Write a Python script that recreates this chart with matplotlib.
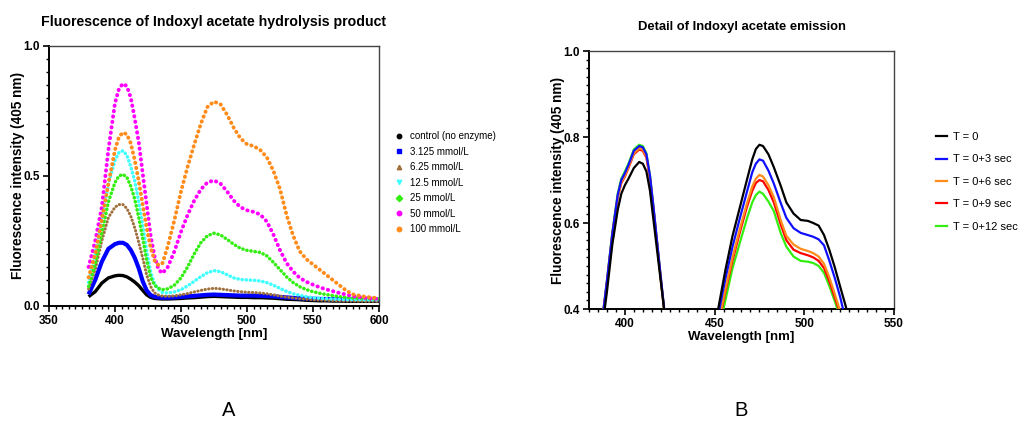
import numpy as np
import matplotlib
matplotlib.use("Agg")
import matplotlib.pyplot as plt
from matplotlib.lines import Line2D
from matplotlib.ticker import MultipleLocator

plt.rcParams['font.family'] = ['Liberation Sans', 'DejaVu Sans']

# ---- Panel A data: emission spectra per substrate concentration ----
wl_a = [380, 385, 390, 395, 400, 403, 406, 409, 412, 415, 418, 421, 424, 427, 430, 433, 436,
        440, 445, 450, 455, 460, 465, 470, 475, 480, 485, 490, 495, 500, 505, 510, 515, 520,
        525, 530, 535, 540, 545, 550, 555, 560, 565, 570, 575, 580, 590, 600]

control = [0.036, 0.055, 0.088, 0.108, 0.116, 0.118, 0.117, 0.112, 0.103, 0.092, 0.078, 0.06,
           0.043, 0.033, 0.029, 0.028, 0.027, 0.027, 0.028, 0.029, 0.031, 0.032, 0.034, 0.036,
           0.037, 0.036, 0.035, 0.034, 0.033, 0.033, 0.032, 0.032, 0.031, 0.03, 0.028, 0.026,
           0.025, 0.024, 0.022, 0.021, 0.02, 0.02, 0.019, 0.019, 0.018, 0.018, 0.018, 0.018]
c3125 = [0.045, 0.1, 0.17, 0.22, 0.238, 0.243, 0.243, 0.235, 0.215, 0.185, 0.145, 0.095,
         0.06, 0.042, 0.035, 0.033, 0.032, 0.032, 0.033, 0.035, 0.037, 0.039, 0.041, 0.043,
         0.044, 0.043, 0.042, 0.041, 0.04, 0.04, 0.04, 0.039, 0.038, 0.037, 0.035, 0.033,
         0.031, 0.03, 0.029, 0.028, 0.027, 0.027, 0.026, 0.026, 0.025, 0.025, 0.025, 0.024]
c625 = [0.065, 0.14, 0.25, 0.34, 0.38, 0.39, 0.39, 0.375, 0.345, 0.3, 0.245, 0.185,
        0.12, 0.075, 0.05, 0.042, 0.038, 0.037, 0.039, 0.043, 0.048, 0.054, 0.06, 0.065,
        0.068, 0.066, 0.062, 0.058, 0.055, 0.053, 0.052, 0.05, 0.047, 0.043, 0.038, 0.034,
        0.031, 0.028, 0.026, 0.024, 0.023, 0.022, 0.021, 0.02, 0.019, 0.019, 0.018, 0.018]
c125 = [0.09, 0.2, 0.33, 0.47, 0.56, 0.59, 0.597, 0.58, 0.535, 0.48, 0.4, 0.31,
        0.21, 0.13, 0.085, 0.063, 0.052, 0.05, 0.054, 0.063, 0.077, 0.095, 0.113, 0.128,
        0.136, 0.132, 0.12, 0.108, 0.102, 0.1, 0.099, 0.096, 0.09, 0.08, 0.068, 0.056,
        0.047, 0.041, 0.036, 0.032, 0.03, 0.028, 0.027, 0.026, 0.025, 0.025, 0.024, 0.024]
c25 = [0.075, 0.16, 0.28, 0.4, 0.475, 0.5, 0.506, 0.495, 0.46, 0.41, 0.34, 0.26,
       0.175, 0.11, 0.08, 0.068, 0.063, 0.066, 0.08, 0.108, 0.15, 0.2, 0.243, 0.27,
       0.28, 0.273, 0.256, 0.237, 0.222, 0.214, 0.21, 0.206, 0.193, 0.168, 0.14, 0.112,
       0.09, 0.074, 0.063, 0.055, 0.049, 0.044, 0.04, 0.036, 0.033, 0.031, 0.029, 0.027]
c50 = [0.15, 0.25, 0.38, 0.6, 0.78, 0.835, 0.855, 0.845, 0.8, 0.72, 0.63, 0.51,
       0.39, 0.27, 0.19, 0.14, 0.126, 0.15, 0.21, 0.285, 0.35, 0.405, 0.448, 0.475,
       0.483, 0.47, 0.44, 0.405, 0.38, 0.368, 0.362, 0.352, 0.325, 0.275, 0.215, 0.165,
       0.132, 0.108, 0.093, 0.082, 0.072, 0.064, 0.057, 0.05, 0.044, 0.038, 0.031, 0.027]
c100 = [0.11, 0.2, 0.33, 0.47, 0.6, 0.65, 0.667, 0.66, 0.625, 0.56, 0.48, 0.39,
        0.3, 0.225, 0.175, 0.157, 0.165, 0.23, 0.33, 0.44, 0.535, 0.62, 0.7, 0.765,
        0.786, 0.775, 0.735, 0.685, 0.645, 0.622, 0.615, 0.6, 0.572, 0.52, 0.45, 0.35,
        0.27, 0.21, 0.18, 0.16, 0.14, 0.12, 0.1, 0.08, 0.06, 0.045, 0.035, 0.03]

labels_a = ["control (no enzyme)", "3.125 mmol/L", "6.25 mmol/L", "12.5 mmol/L",
            "25 mmol/L", "50 mmol/L", "100 mmol/L"]

# ---- Panel B data: emission detail over time ----
wl_b = [384, 388, 390, 393, 396, 398, 400, 402, 405, 408, 410, 412, 414, 416, 418, 420, 422, 426,
        448, 452, 456, 460, 464, 468, 471, 473, 475, 477, 480, 483, 487, 490, 494, 498, 502,
        505, 508, 511, 514, 517, 520, 523, 526, 530]

t0 = [0.27, 0.375, 0.44, 0.55, 0.63, 0.668, 0.688, 0.703, 0.728, 0.742, 0.738, 0.72, 0.675,
      0.605, 0.535, 0.465, 0.395, 0.25,
      0.3, 0.4, 0.49, 0.57, 0.635, 0.7, 0.748, 0.772, 0.782, 0.779, 0.76, 0.73, 0.685, 0.648,
      0.622, 0.607, 0.605, 0.6, 0.594, 0.572, 0.537, 0.497, 0.452, 0.408, 0.36, 0.3]
t3 = [0.28, 0.395, 0.465, 0.575, 0.665, 0.7, 0.716, 0.735, 0.768, 0.779, 0.776, 0.76, 0.71,
      0.635, 0.555, 0.475, 0.397, 0.25,
      0.29, 0.385, 0.47, 0.545, 0.61, 0.672, 0.718, 0.738, 0.748, 0.745, 0.722, 0.692, 0.645,
      0.612, 0.588, 0.577, 0.572, 0.568, 0.562, 0.548, 0.512, 0.472, 0.428, 0.375, 0.33, 0.27]
t6 = [0.28, 0.395, 0.462, 0.572, 0.66, 0.695, 0.71, 0.73, 0.762, 0.774, 0.771, 0.755, 0.705,
      0.632, 0.552, 0.472, 0.395, 0.25,
      0.27, 0.365, 0.445, 0.52, 0.585, 0.645, 0.685, 0.703, 0.712, 0.708, 0.688, 0.66, 0.605,
      0.57, 0.55, 0.54, 0.535, 0.53, 0.522, 0.505, 0.473, 0.435, 0.395, 0.355, 0.315, 0.26]
t9 = [0.28, 0.395, 0.462, 0.572, 0.66, 0.693, 0.708, 0.728, 0.76, 0.771, 0.768, 0.752, 0.703,
      0.63, 0.55, 0.47, 0.394, 0.25,
      0.265, 0.36, 0.44, 0.513, 0.577, 0.637, 0.675, 0.693, 0.70, 0.697, 0.677, 0.648, 0.595,
      0.56, 0.538, 0.53, 0.525, 0.52, 0.512, 0.495, 0.464, 0.427, 0.39, 0.35, 0.31, 0.255]
t12 = [0.28, 0.396, 0.466, 0.578, 0.668, 0.703, 0.72, 0.738, 0.771, 0.782, 0.779, 0.762, 0.71,
       0.635, 0.553, 0.472, 0.395, 0.25,
       0.255, 0.345, 0.42, 0.495, 0.553, 0.61, 0.648, 0.665, 0.673, 0.668, 0.65, 0.628, 0.575,
       0.545, 0.522, 0.512, 0.51, 0.507, 0.5, 0.484, 0.453, 0.418, 0.38, 0.34, 0.3, 0.25]

labels_b = ["T = 0", "T = 0+3 sec", "T = 0+6 sec", "T = 0+9 sec", "T = 0+12 sec"]

# ---- styles ----
colors_a = ["#000000", "#0000ff", "#a0703c", "#40ffff", "#33ee11", "#ff00ff", "#ff8c1a"]
markers_a = ["o", "s", "^", "v", "D", "o", "o"]
dots_a = [None, None, (0, (0.1, 1.1)), (0, (0.1, 1.1)), (0, (0.1, 1.1)),
          (0, (0.1, 1.3)), (0, (0.1, 1.25))]
widths_a = [2.4, 3.0, 2.2, 2.5, 2.5, 2.8, 2.8]
colors_b = ["#000000", "#1010ff", "#ff8c1a", "#ff0000", "#33ee11"]

fig = plt.figure(figsize=(10.27, 4.25), dpi=100)
axA = fig.add_axes([0.0477, 0.28, 0.3213, 0.612])
axB = fig.add_axes([0.5735, 0.2729, 0.297, 0.607])

series_a = [control, c3125, c625, c125, c25, c50, c100]
for ys, col, ls, lw in zip(series_a, colors_a, dots_a, widths_a):
    if ls is None:
        axA.plot(wl_a, ys, color=col, lw=lw, solid_capstyle='butt', solid_joinstyle='round')
    else:
        axA.plot(wl_a, ys, color=col, lw=lw, linestyle=ls, dash_capstyle='round')

handles_a = [Line2D([], [], linestyle='none', marker=m, color=c, markersize=3.2)
             for m, c in zip(markers_a, colors_a)]
axA.legend(handles_a, labels_a, loc='upper left', bbox_to_anchor=(395 / 1027, 1 - 131 / 425),
           bbox_transform=fig.transFigure, frameon=False, fontsize=7, handlelength=0.8,
           handletextpad=0.75, labelspacing=0.57, borderpad=0, borderaxespad=0)

series_b = [t0, t3, t6, t9, t12]
for i, (ys, col, lab) in enumerate(zip(series_b, colors_b, labels_b)):
    axB.plot(wl_b, ys, color=col, lw=1.6, label=lab, zorder=10 - i)
axB.legend(loc='upper left', bbox_to_anchor=(936 / 1027, 1 - 132 / 425),
           bbox_transform=fig.transFigure, frameon=False, fontsize=8, handlelength=1.0,
           handletextpad=0.55, labelspacing=1.12, borderpad=0, borderaxespad=0)

# ---- axes styling ----
axA.set_xlim(350, 600)
axA.set_ylim(0, 1.0)
axA.xaxis.set_major_locator(MultipleLocator(50))
axA.xaxis.set_minor_locator(MultipleLocator(5))
axA.yaxis.set_major_locator(MultipleLocator(0.5))
axA.yaxis.set_minor_locator(MultipleLocator(0.05))
axA.set_title("Fluorescence of Indoxyl acetate hydrolysis product", fontsize=10.2,
              fontweight='bold', pad=14)

axB.set_xlim(380, 550)
axB.set_ylim(0.4, 1.0)
axB.set_xticks([400, 450, 500, 550])
axB.xaxis.set_minor_locator(MultipleLocator(5))
axB.yaxis.set_major_locator(MultipleLocator(0.2))
axB.yaxis.set_minor_locator(MultipleLocator(0.02))
axB.set_title("Detail of Indoxyl acetate emission", fontsize=9.4, fontweight='bold', pad=15)

for ax in (axA, axB):
    ax.set_xlabel("Wavelength [nm]", fontsize=9.5, fontweight='bold', labelpad=1)
    ax.set_ylabel("Fluorescence intensity (405 nm)", fontsize=9.8, fontweight='bold', labelpad=-1)
    ax.yaxis.set_major_formatter(matplotlib.ticker.FormatStrFormatter('%.1f'))
    ax.tick_params(which='major', direction='out', length=4.5, width=1.2, labelsize=8.5, pad=2)
    ax.tick_params(which='minor', direction='out', length=2.5, width=1.0)
    for lab in ax.get_xticklabels() + ax.get_yticklabels():
        lab.set_fontweight('bold')
    for side in ('left', 'bottom'):
        ax.spines[side].set_linewidth(1.4)
    for side in ('top', 'right'):
        ax.spines[side].set_linewidth(1.0)
        ax.spines[side].set_color('#444444')

fig.text(229 / 1027, 1 - 411 / 425, "A", fontsize=14.5, ha='center', va='center')
fig.text(741 / 1027, 1 - 411 / 425, "B", fontsize=14.5, ha='center', va='center')

fig.savefig("out.png", dpi=100)
